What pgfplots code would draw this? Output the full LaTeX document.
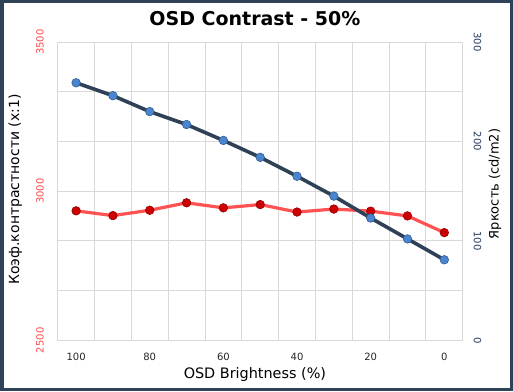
\documentclass[border=0pt]{standalone}
\usepackage{pgfplots}
\pgfplotsset{compat=1.18}
\usepackage{fontspec}
\setmainfont{DejaVu Sans}
\definecolor{frame}{HTML}{2F4257}
\definecolor{gridc}{HTML}{D9D9D9}
\definecolor{redline}{HTML}{FF5252}
\definecolor{redball}{HTML}{CC0000}
\definecolor{blueline}{HTML}{2E4156}
\definecolor{blueball}{HTML}{4A86D0}
\definecolor{redtick}{HTML}{FF4A4A}
\definecolor{bluetick}{HTML}{253A5A}
\pgfplotstableread{
x contrast
100 2934
90 2918
80 2936
70 2961
60 2944
50 2955
40 2930
30 2940
20 2933
10 2917
0 2861
}\contrasttable
\pgfplotstableread{
x lum
100 259
90 246
80 230
70 217
60 201
50 184
40 165
30 145
20 123
10 102
0 81
}\lumtable
\begin{document}
\begin{tikzpicture}
\useasboundingbox (0,0) rectangle (513pt,391pt);
\fill[white] (0,0) rectangle (513pt,391pt);
\begin{axis}[
  at={(57.7pt,50.7pt)}, anchor=south west,
  scale only axis, width=405pt, height=298.3pt,
  xmin=-5, xmax=105, x dir=reverse,
  ymin=2500, ymax=3500,
  xtick={0,20,40,60,80,100},
  minor xtick={5,15,25,35,45,55,65,75,85,95},
  ytick={2500,3000,3500},
  minor ytick={2666.667,2833.333,3166.667,3333.333},
  xminorgrids, ymajorgrids, yminorgrids,
  grid style={gridc, line width=0.8pt},
  minor grid style={gridc, line width=0.8pt},
  axis line style={gridc, line width=0.8pt},
  major tick length=0pt, minor tick length=0pt,
  /pgf/number format/assume math mode=true,
  /pgf/number format/1000 sep={},
  tick label style={font=\fontsize{10}{12}\selectfont},
  xticklabel style={anchor=center, yshift=-16.4pt, text=black!85},
  yticklabel style={xshift=-17.7pt, rotate=90, anchor=center, text=redtick},
  xlabel={OSD Brightness (\%)},
  xlabel style={at={(axis description cs:0.487,-0.114)}, anchor=center, font=\fontsize{14.4}{16}\selectfont},
  ylabel={Коэф.контрастности (x:1)},
  ylabel style={at={(axis description cs:-0.105,0.5055)}, rotate=0, anchor=center, font=\fontsize{14}{16}\selectfont},
  title={\textbf{OSD Contrast - 50\%}},
  title style={at={(axis description cs:0.487,1.0587)}, anchor=center, font=\fontsize{19}{22}\selectfont},
  clip=false,
]
\addplot[redline, line width=3.2pt, mark=*, mark size=4.3pt, mark options={fill=redball, draw=redball!75!black, line width=0.6pt}] table[x=x, y=contrast] {\contrasttable};
\end{axis}
\begin{axis}[
  at={(57.7pt,50.7pt)}, anchor=south west,
  scale only axis, width=405pt, height=298.3pt,
  xmin=-5, xmax=105, x dir=reverse,
  ymin=0, ymax=300,
  axis x line=none,
  axis y line*=right,
  ytick={0,100,200,300},
  axis line style={gridc, line width=0.8pt},
  major tick length=0pt, minor tick length=0pt,
  /pgf/number format/assume math mode=true,
  tick label style={font=\fontsize{10}{12}\selectfont},
  yticklabel style={xshift=14.8pt, rotate=-90, anchor=center, text=bluetick},
  ylabel={Яркость (cd/m2)},
  ylabel style={at={(axis description cs:1.08,0.524)}, rotate=0, anchor=center, font=\fontsize{13}{15}\selectfont},
  clip=false,
]
\addplot[blueline, line width=3.6pt, mark=*, mark size=4.3pt, mark options={fill=blueball, draw=blueball!70!black, line width=0.6pt}] table[x=x, y=lum] {\lumtable};
\end{axis}
\draw[frame, line width=3.5pt] (1.75pt,1.75pt) rectangle (511.25pt,389.25pt);
\end{tikzpicture}
\end{document}
